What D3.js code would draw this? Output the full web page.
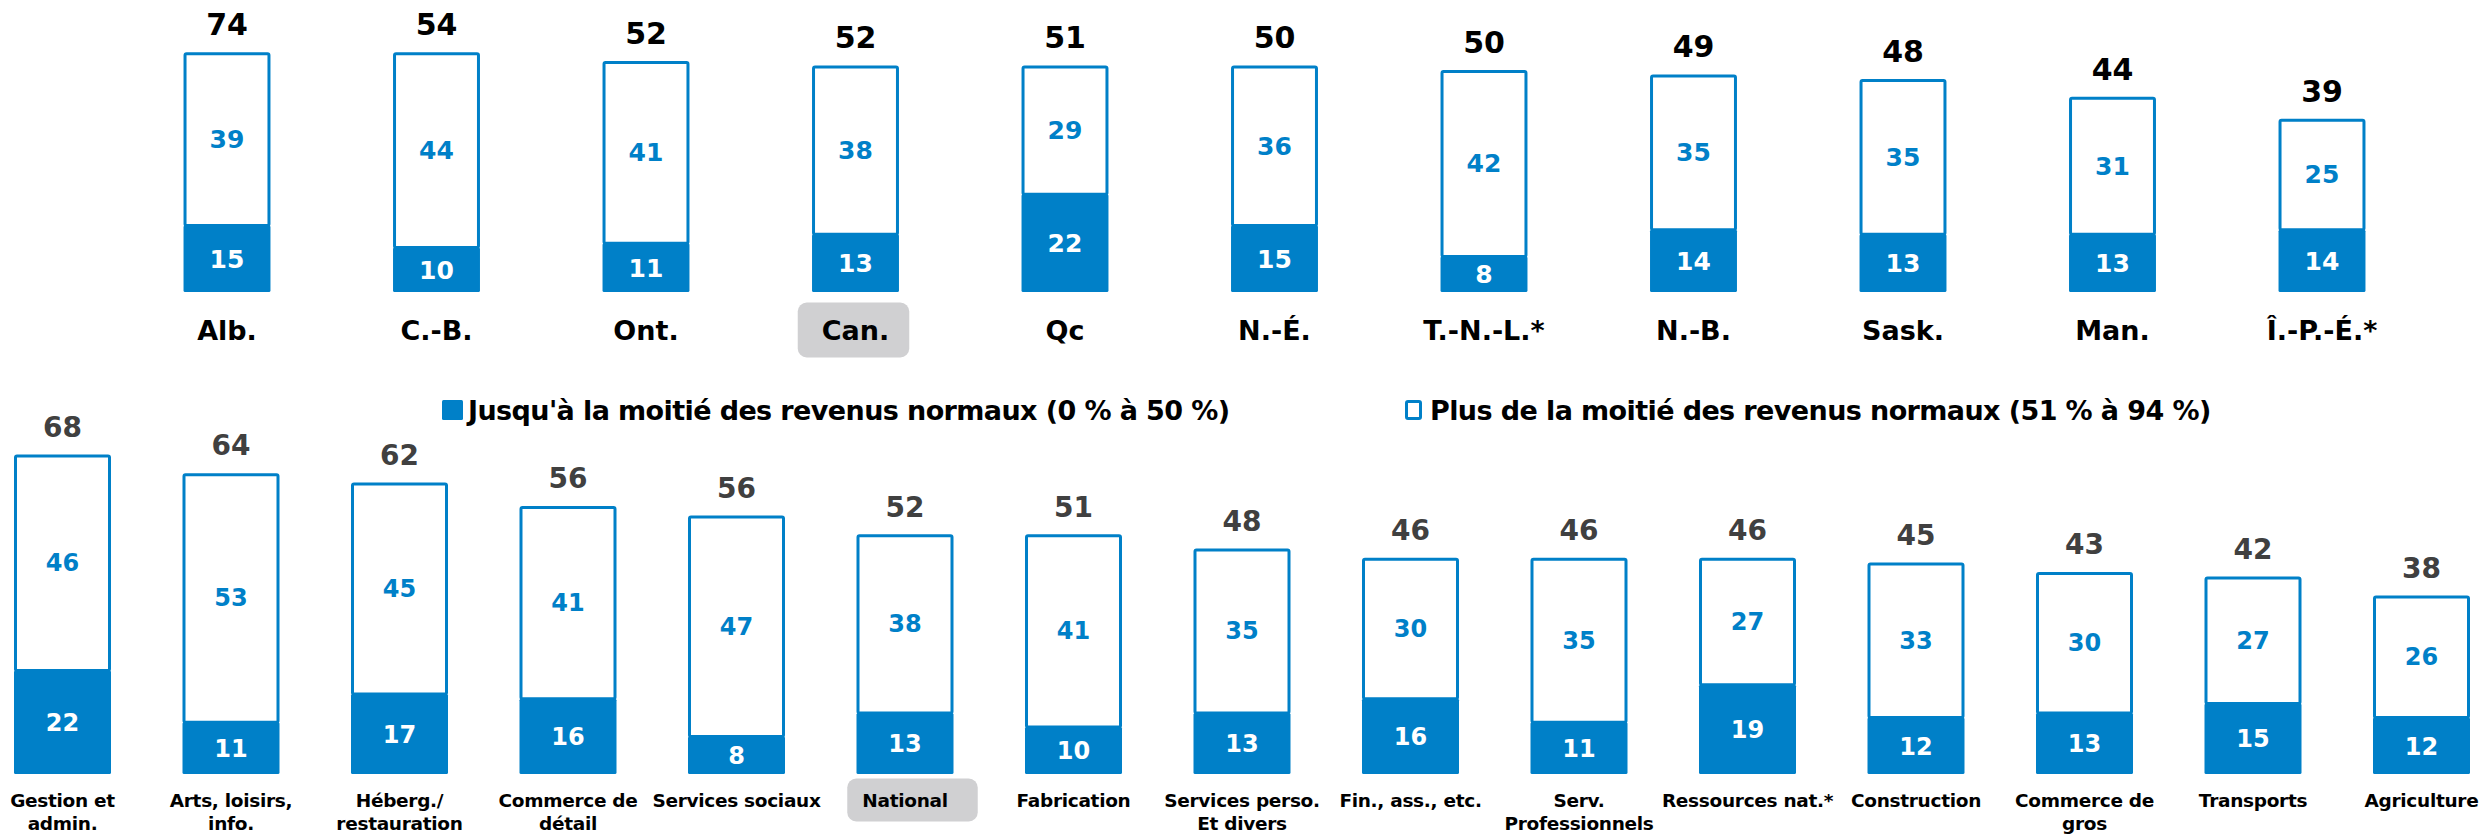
<!DOCTYPE html>
<html>
<head>
<meta charset="utf-8">
<script src="https://cdn.jsdelivr.net/npm/d3@7"></script>
<style>
  html, body { margin: 0; padding: 0; background: #fff; }
  svg { display: block; font-family: "DejaVu Sans", Verdana, sans-serif; font-weight: bold; }
</style>
</head>
<body>
<div id="chart"></div>
<script>
// Provinces (top row)
const provinces = ['Alb.', 'C.-B.', 'Ont.', 'Can.', 'Qc', 'N.-É.', 'T.-N.-L.*', 'N.-B.', 'Sask.', 'Man.', 'Î.-P.-É.*'];
const provLow = [15, 10, 11, 13, 22, 15, 8, 14, 13, 13, 14];
const provHigh = [39, 44, 41, 38, 29, 36, 42, 35, 35, 31, 25];
const provTotal = [74, 54, 52, 52, 51, 50, 50, 49, 48, 44, 39];

// Sectors (bottom row), each label split in lines
const sectors = [
  ['Gestion et', 'admin.'], ['Arts, loisirs,', 'info.'], ['Héberg./', 'restauration'],
  ['Commerce de', 'détail'], ['Services sociaux'], ['National'], ['Fabrication'],
  ['Services perso.', 'Et divers'], ['Fin., ass., etc.'], ['Serv.', 'Professionnels'],
  ['Ressources nat.*'], ['Construction'], ['Commerce de', 'gros'], ['Transports'], ['Agriculture']
];
const sectLow = [22, 11, 17, 16, 8, 13, 10, 13, 16, 11, 19, 12, 13, 15, 12];
const sectHigh = [46, 53, 45, 41, 47, 38, 41, 35, 30, 35, 27, 33, 30, 27, 26];
const sectTotal = [68, 64, 62, 56, 56, 52, 51, 48, 46, 46, 46, 45, 43, 42, 38];

const legendLabels = [
  "Jusqu'à la moitié des revenus normaux (0 % à 50 %)",
  'Plus de la moitié des revenus normaux (51 % à 94 %)'
];

const BLUE = '#0080c8';
const BOX = '#d0d0d2';
const width = 2489, height = 836;
const CAP = 0.729; // cap height ratio of the font

const svg = d3.select('#chart').append('svg')
  .attr('width', width)
  .attr('height', height)
  .attr('viewBox', [0, 0, width, height]);

function drawRow(cfg) {
  const keys = cfg.cats.map((c, i) => i);
  const x = d3.scaleBand().domain(keys).range(cfg.xRange)
    .paddingInner(cfg.pad).paddingOuter(cfg.pad / 2);
  const y = d3.scaleLinear().domain([0, cfg.yMax]).range([cfg.base, cfg.base - cfg.yMax * cfg.ppu]);
  const bw = x.bandwidth();

  const rows = keys.map(i => ({
    i, cat: cfg.cats[i], low: cfg.low[i], high: cfg.high[i], total: cfg.total[i]
  }));

  const g = svg.append('g');
  const bar = g.selectAll('.bar').data(rows).join('g').attr('class', 'bar');

  // upper part: white box with blue outline
  bar.append('rect')
    .attr('x', d => x(d.i) + 1.5)
    .attr('width', bw - 3)
    .attr('y', d => y(d.low + d.high) + 1.5)
    .attr('height', d => y(d.low) - y(d.low + d.high) - 1.5)
    .attr('rx', 1.5)
    .attr('fill', '#fff')
    .attr('stroke', BLUE)
    .attr('stroke-width', 3);

  // lower part: solid blue
  bar.append('rect')
    .attr('x', d => x(d.i))
    .attr('width', bw)
    .attr('y', d => y(d.low))
    .attr('height', d => y(0) - y(d.low))
    .attr('rx', 1.5)
    .attr('fill', BLUE);

  const cx = d => x(d.i) + bw / 2;

  bar.append('text')
    .attr('x', cx)
    .attr('y', d => (y(d.low) + y(d.low + d.high)) / 2 + cfg.inFont * CAP / 2)
    .attr('text-anchor', 'middle')
    .attr('font-size', cfg.inFont)
    .attr('fill', BLUE)
    .text(d => d.high);

  bar.append('text')
    .attr('x', cx)
    .attr('y', d => (y(0) + y(d.low)) / 2 + cfg.inFont * CAP / 2)
    .attr('text-anchor', 'middle')
    .attr('font-size', cfg.inFont)
    .attr('fill', '#fff')
    .text(d => d.low);

  // total above the bar
  bar.append('text')
    .attr('x', cx)
    .attr('y', d => y(d.low + d.high) - 28 + cfg.totFont * CAP / 2)
    .attr('text-anchor', 'middle')
    .attr('font-size', cfg.totFont)
    .attr('fill', cfg.totColor)
    .text(d => d.total);

  // category labels, grey box behind the highlighted one
  bar.each(function (d) {
    const lines = Array.isArray(d.cat) ? d.cat : [d.cat];
    const sel = d3.select(this);
    const hl = d.i === cfg.highlight;
    const boxG = sel.append('g');
    const t = sel.append('text')
      .attr('text-anchor', 'middle')
      .attr('font-size', cfg.catFont)
      .attr('letter-spacing', cfg.catSpacing)
      .attr('fill', '#000');
    lines.forEach((ln, k) => {
      t.append('tspan')
        .attr('x', cx(d))
        .attr('y', cfg.catY + k * cfg.catLine + cfg.catFont * CAP / 2)
        .text(ln);
    });
    if (hl) {
      const bb = t.node().getBBox();
      boxG.append('rect')
        .attr('x', bb.x - cfg.boxPadL)
        .attr('width', bb.width + cfg.boxPadL + cfg.boxPadR)
        .attr('y', cfg.catY - cfg.boxH / 2)
        .attr('height', cfg.boxH)
        .attr('rx', 9)
        .attr('fill', BOX);
    }
  });
}

drawRow({
  cats: provinces, low: provLow, high: provHigh, total: provTotal,
  xRange: [122.25, 2426.75], pad: 0.585,
  base: 292, ppu: 4.44, yMax: 60,
  inFont: 25, totFont: 30, totColor: '#000',
  catFont: 27, catSpacing: 0, catY: 330, catLine: 0,
  highlight: 3, boxPadL: 24, boxPadR: 20, boxH: 55
});

drawRow({
  cats: sectors, low: sectLow, high: sectHigh, total: sectTotal,
  xRange: [-21.75, 2505.75], pad: 0.4243,
  base: 774, ppu: 4.7, yMax: 70,
  inFont: 24, totFont: 28, totColor: '#404040',
  catFont: 18.5, catSpacing: -0.3, catY: 800, catLine: 23,
  highlight: 5, boxPadL: 15, boxPadR: 30, boxH: 43
});

// Legend
const legend = svg.append('g');
const legX = [442, 1405];
legend.selectAll('rect').data(legendLabels).join('rect')
  .attr('x', (d, i) => i === 0 ? legX[i] : legX[i] + 1.5)
  .attr('y', (d, i) => i === 0 ? 400 : 401.5)
  .attr('width', (d, i) => i === 0 ? 21 : 14)
  .attr('height', (d, i) => i === 0 ? 20 : 17)
  .attr('rx', 1.5)
  .attr('fill', (d, i) => i === 0 ? BLUE : '#fff')
  .attr('stroke', BLUE)
  .attr('stroke-width', (d, i) => i === 0 ? 0 : 3);

legend.selectAll('text').data(legendLabels).join('text')
  .attr('x', (d, i) => i === 0 ? 468 : 1430)
  .attr('y', 410 + 27 * CAP / 2)
  .attr('font-size', 27)
  .attr('letter-spacing', -0.6)
  .attr('fill', '#000')
  .text(d => d);
</script>
</body>
</html>
